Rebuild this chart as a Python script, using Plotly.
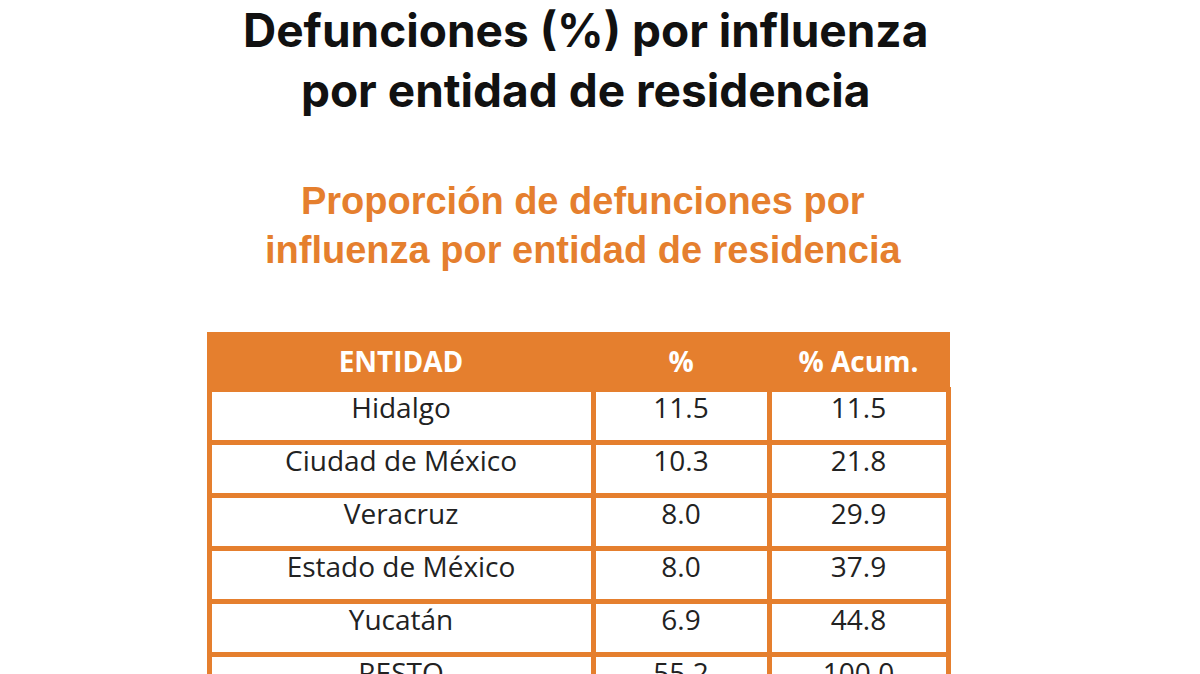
import plotly.graph_objects as go

entidades = ["Hidalgo", "Ciudad de México", "Veracruz", "Estado de México", "Yucatán", "RESTO"]
pct = ["11.5", "10.3", "8.0", "8.0", "6.9", "55.2"]
acum = ["11.5", "21.8", "29.9", "37.9", "44.8", "100.0"]
headers = ["<b>ENTIDAD</b>", "<b>%</b>", "<b>% Acum.</b>"]

orange = "#E57F2E"
fig = go.Figure(go.Table(
    domain=dict(x=[201/1200, 940/1200], y=[0, 1-326/674]),
    columnwidth=[384, 176, 179],
    header=dict(values=headers, fill_color=orange, line=dict(color=orange, width=4),
                font=dict(family="Open Sans", size=28, color="white"), height=55, align="center"),
    cells=dict(values=[entidades, pct, acum], fill_color="white", line=dict(color=orange, width=5),
               font=dict(family="Open Sans", size=28, color="#222222"), height=53, align="center"),
))
fig.update_layout(
    width=1200, height=674, margin=dict(l=0, r=0, t=0, b=0),
    paper_bgcolor="white",
    annotations=[
        dict(text="<b>Defunciones (%) por influenza<br>por entidad de residencia</b>", x=577/1200, y=1+8/674,
             xref="paper", yref="paper", xanchor="center", yanchor="top", showarrow=False,
             font=dict(family="Inter", size=46, color="#111111")),
        dict(text="<b>Proporción de defunciones por<br>influenza por entidad de residencia</b>", x=575/1200, y=1-170/674,
             xref="paper", yref="paper", xanchor="center", yanchor="top", showarrow=False,
             font=dict(family="Liberation Sans", size=38, color=orange)),
    ],
)
fig.write_html("out.html")
